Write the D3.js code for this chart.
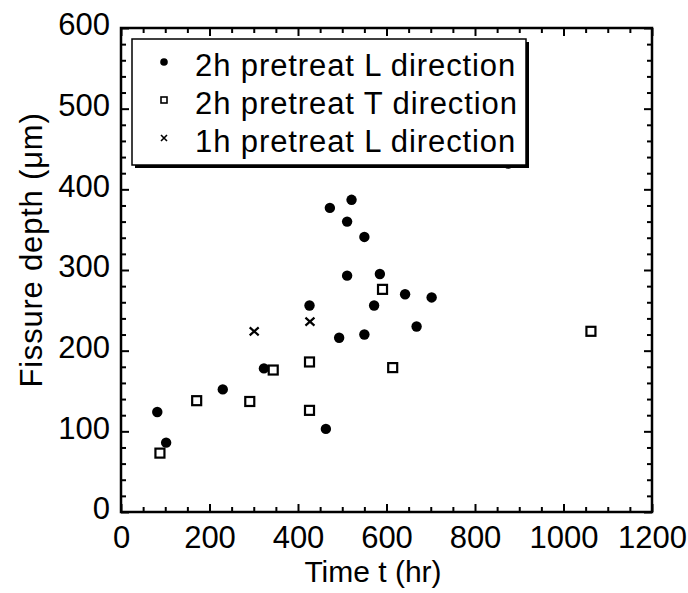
<!DOCTYPE html>
<html>
<head>
<meta charset="utf-8">
<script src="https://cdn.jsdelivr.net/npm/d3@7"></script>
<style>
  body { margin: 0; background: #fff; }
  text { font-family: "Liberation Sans", Arial, Helvetica, sans-serif; fill: #000; }
</style>
</head>
<body>
<div id="chart"></div>
<script>
// Fissure depth vs time, three pretreatment series

// 2h pretreat, L direction (filled circles)
const timeL2 = [82, 102, 230, 323, 426, 463, 472, 493, 511, 511, 521, 550, 550, 572, 585, 642, 668, 702, 875];
const depthL2 = [124, 86, 152, 178, 256, 103, 377, 216, 360, 293, 387, 341, 220, 256, 295, 270, 230, 266, 432];

// 2h pretreat, T direction (open squares)
const timeT2 = [88, 171, 291, 344, 426, 426, 591, 614, 1062];
const depthT2 = [73, 138, 137, 176, 186, 126, 276, 179, 224];

// 1h pretreat, L direction (crosses)
const timeL1 = [301, 427];
const depthL1 = [224, 236];

const xTicks = [0, 200, 400, 600, 800, 1000, 1200];
const yTicks = [0, 100, 200, 300, 400, 500, 600];
const legendLabels = ["2h pretreat L direction", "2h pretreat T direction", "1h pretreat L direction"];

const W = 688, H = 593;
const margin = { top: 28, right: 36, bottom: 81, left: 121 };
const width = W - margin.left - margin.right,
      height = H - margin.top - margin.bottom;

const svg = d3.select("#chart").append("svg")
  .attr("width", W)
  .attr("height", H);

const g = svg.append("g")
  .attr("transform", `translate(${margin.left},${margin.top})`);

const x = d3.scaleLinear().domain([0, 1200]).range([0, width]);
const y = d3.scaleLinear().domain([0, 600]).range([height, 0]);

const xMinor = d3.range(0, 1201, 50).filter(v => v % 200 !== 0);
const yMinor = d3.range(0, 601, 20).filter(v => v % 100 !== 0);
const fmt = d3.format("d");

// helper: inward ticks, then strip domain path
function ticks(axis, transform) {
  const a = g.append("g").attr("transform", transform || null).call(axis);
  a.select(".domain").remove();
  a.selectAll("line").attr("stroke", "#000").attr("stroke-width", 2);
  return a;
}

// bottom axis with labels
const bx = ticks(d3.axisBottom(x).tickValues(xTicks).tickSize(-8).tickPadding(14).tickFormat(fmt), `translate(0,${height})`);
bx.selectAll("text").style("font-size", "31px");
ticks(d3.axisBottom(x).tickValues(xMinor).tickSize(-5).tickFormat(""), `translate(0,${height})`);
// top mirror
ticks(d3.axisTop(x).tickValues(xTicks).tickSize(-8).tickFormat(""));
ticks(d3.axisTop(x).tickValues(xMinor).tickSize(-5).tickFormat(""));

// left axis with labels
const ly = ticks(d3.axisLeft(y).tickValues(yTicks).tickSize(-8).tickPadding(11).tickFormat(fmt));
ly.selectAll("text").style("font-size", "31px").attr("dy", "0.22em");
ticks(d3.axisLeft(y).tickValues(yMinor).tickSize(-5).tickFormat(""));
// right mirror
ticks(d3.axisRight(y).tickValues(yTicks).tickSize(-8).tickFormat(""), `translate(${width},0)`);
ticks(d3.axisRight(y).tickValues(yMinor).tickSize(-5).tickFormat(""), `translate(${width},0)`);

// frame
g.append("rect")
  .attr("width", width).attr("height", height)
  .attr("fill", "none").attr("stroke", "#000").attr("stroke-width", 2.5);

// axis titles
svg.append("text")
  .attr("x", 373).attr("y", 582)
  .attr("text-anchor", "middle")
  .style("font-size", "30px")
  .text("Time t (hr)");

svg.append("text")
  .attr("transform", `translate(42,250) rotate(-90)`)
  .attr("text-anchor", "middle")
  .style("font-size", "31px")
  .style("letter-spacing", "0.8px")
  .text("Fissure depth (\u03bcm)");

// markers
g.selectAll(".ptL2")
  .data(d3.zip(timeL2, depthL2))
  .enter().append("circle")
  .attr("class", "ptL2")
  .attr("cx", d => x(d[0])).attr("cy", d => y(d[1]))
  .attr("r", 5.2)
  .attr("fill", "#000");

g.selectAll(".ptT2")
  .data(d3.zip(timeT2, depthT2))
  .enter().append("rect")
  .attr("class", "ptT2")
  .attr("x", d => x(d[0]) - 4.5).attr("y", d => y(d[1]) - 4.5)
  .attr("width", 9).attr("height", 9)
  .attr("fill", "#fff").attr("stroke", "#000").attr("stroke-width", 2.2);

g.selectAll(".ptL1")
  .data(d3.zip(timeL1, depthL1))
  .enter().append("path")
  .attr("class", "ptL1")
  .attr("transform", d => `translate(${x(d[0])},${y(d[1])})`)
  .attr("d", "M-4.5,-4L4.5,4M-4.5,4L4.5,-4")
  .attr("stroke", "#000").attr("stroke-width", 2.2);

// legend (drawn over the data)
const lg = svg.append("g").attr("transform", "translate(132,39)");
const lw = 394, lh = 126;
lg.append("rect").attr("x", 3).attr("y", 3).attr("width", lw).attr("height", lh).attr("fill", "#000");
lg.append("rect").attr("width", lw).attr("height", lh)
  .attr("fill", "#fff").attr("stroke", "#000").attr("stroke-width", 1.5);

const rowY = [23, 61, 99];
legendLabels.forEach((label, i) => {
  const cy = rowY[i];
  if (i === 0) {
    lg.append("circle").attr("cx", 32).attr("cy", cy).attr("r", 3.8).attr("fill", "#000");
  } else if (i === 1) {
    lg.append("rect").attr("x", 29).attr("y", cy - 3).attr("width", 6).attr("height", 6)
      .attr("fill", "#fff").attr("stroke", "#000").attr("stroke-width", 1.6);
  } else {
    lg.append("path").attr("transform", `translate(32,${cy})`)
      .attr("d", "M-3,-3L3,3M-3,3L3,-3").attr("stroke", "#000").attr("stroke-width", 1.6);
  }
  lg.append("text")
    .attr("x", 63).attr("y", cy + 14)
    .style("font-size", "31px")
    .style("letter-spacing", "0.9px")
    .text(label);
});
</script>
</body>
</html>
